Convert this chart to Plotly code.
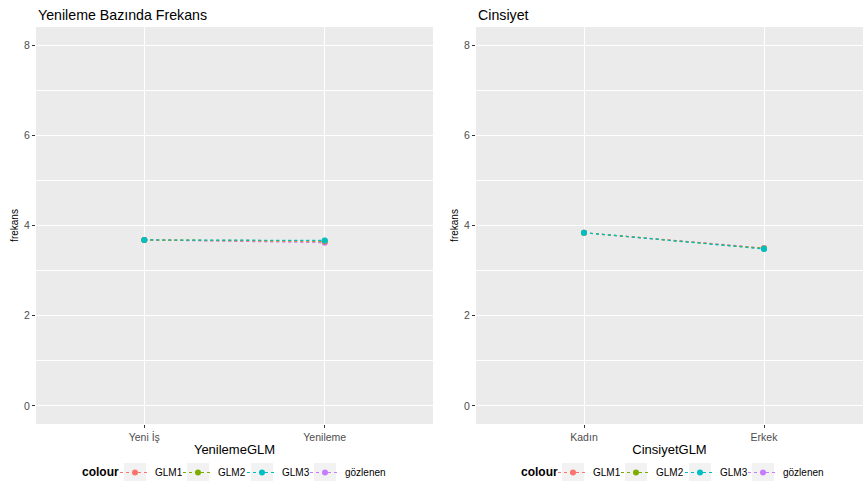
import plotly.graph_objects as go

series = ["GLM1", "GLM2", "GLM3", "gözlenen"]
colors = ["#F8766D", "#7CAE00", "#00BFC4", "#C77CFF"]
draw_order = ["gözlenen", "GLM1", "GLM2", "GLM3"]

yenileme_cats = ["Yeni İş", "Yenileme"]
yenileme_vals = {
    "GLM1": [3.68, 3.64],
    "GLM2": [3.68, 3.66],
    "GLM3": [3.68, 3.67],
    "gözlenen": [3.68, 3.62],
}

cinsiyet_cats = ["Kadın", "Erkek"]
cinsiyet_vals = {
    "GLM1": [3.84, 3.49],
    "GLM2": [3.84, 3.49],
    "GLM3": [3.84, 3.48],
    "gözlenen": [3.84, 3.50],
}

y_ticks = [0, 2, 4, 6, 8]

W, H = 863, 487
fig = go.Figure()
col_of = dict(zip(series, colors))
idx_of = {s: i for i, s in enumerate(series)}

# legend layout in pixels: text start of each entry (left panel), right panel offset
text_x_left = [154, 217, 281, 344]
right_off = 438
legend_row_y = 472

def legend_name(panel, name):
    n = panel * 4 + idx_of[name] + 2
    return f"legend{n}"

panels = [(yenileme_cats, yenileme_vals, "x", "y"),
          (cinsiyet_cats, cinsiyet_vals, "x2", "y2")]
for p, (cats, vals, xa, ya) in enumerate(panels):
    for name in draw_order:
        col = col_of[name]
        fig.add_trace(go.Scatter(
            x=cats, y=vals[name], name=name,
            mode="lines+markers", line=dict(color=col, width=1.2, dash="dot"),
            marker=dict(color=col, size=6), xaxis=xa, yaxis=ya,
            legend=legend_name(p, name)))

ydom = [63 / H, 460 / H]
axis_common = dict(
    showline=False, zeroline=False, gridcolor="white", gridwidth=1.1, automargin=False,
    ticks="outside", ticklen=3, tickcolor="#333333",
    tickfont=dict(family="Liberation Sans, Arial", size=10.5, color="#4D4D4D"),
)
yaxis_common = dict(
    axis_common, range=[-0.4, 8.4], tickvals=y_ticks,
    minor=dict(dtick=1, tick0=0, showgrid=True, gridcolor="white", gridwidth=0.5, ticks=""),
    title=dict(text="frekans", font=dict(family="Liberation Sans, Arial", size=10, color="black"), standoff=3),
)
xtitle_font = dict(family="Liberation Sans, Arial", size=13, color="black")

shapes = []
for tx in text_x_left + [t + right_off for t in text_x_left]:
    shapes.append(dict(type="rect", xref="paper", yref="paper",
                       x0=(tx - 30) / W, x1=(tx - 8) / W,
                       y0=(H - legend_row_y - 9) / H, y1=(H - legend_row_y + 9) / H,
                       fillcolor="#F2F2F2", line=dict(width=0), layer="below"))

legends = {}
for p in range(2):
    for name in series:
        tx = text_x_left[idx_of[name]] + p * right_off
        legends[legend_name(p, name)] = dict(
            orientation="h", x=(tx - 39) / W, y=0, yanchor="bottom", xanchor="left",
            font=dict(size=10, color="black"), bgcolor="rgba(0,0,0,0)", itemwidth=30)

annotations = [
    dict(text="Yenileme Bazında Frekans", x=36 / W, y=1 - 15 / H, xref="paper", yref="paper",
         xanchor="left", yanchor="middle", showarrow=False,
         font=dict(family="Liberation Sans, Arial", size=14.2, color="black")),
    dict(text="Cinsiyet", x=476 / W, y=1 - 15 / H, xref="paper", yref="paper",
         xanchor="left", yanchor="middle", showarrow=False,
         font=dict(family="Liberation Sans, Arial", size=14.2, color="black")),
]
for x0 in [80, 80 + right_off + 1]:
    annotations.append(dict(text="<b>colour</b>", x=x0 / W, y=(H - legend_row_y) / H, xref="paper", yref="paper",
                            xanchor="left", yanchor="middle", showarrow=False,
                            font=dict(family="Liberation Sans, Arial", size=12, color="black")))

fig.update_layout(
    width=W, height=H,
    margin=dict(l=0, r=0, t=0, b=0),
    paper_bgcolor="white", plot_bgcolor="#EBEBEB",
    font=dict(family="Liberation Sans, Arial"),
    showlegend=True,
    shapes=shapes,
    annotations=annotations,
    xaxis=dict(axis_common, domain=[36 / W, 433 / W], type="category", range=[-0.6, 1.6],
               title=dict(text="YenilemeGLM", font=xtitle_font, standoff=3), anchor="y"),
    yaxis=dict(yaxis_common, domain=ydom, anchor="x"),
    xaxis2=dict(axis_common, domain=[476 / W, 1.0], type="category", range=[-0.6, 1.55],
                title=dict(text="CinsiyetGLM", font=xtitle_font, standoff=3), anchor="y2"),
    yaxis2=dict(yaxis_common, domain=ydom, anchor="x2"),
    **legends,
)

fig.write_html("out.html", config={"displayModeBar": False},
               post_script="document.body.style.margin='0';document.body.style.overflow='hidden';")
